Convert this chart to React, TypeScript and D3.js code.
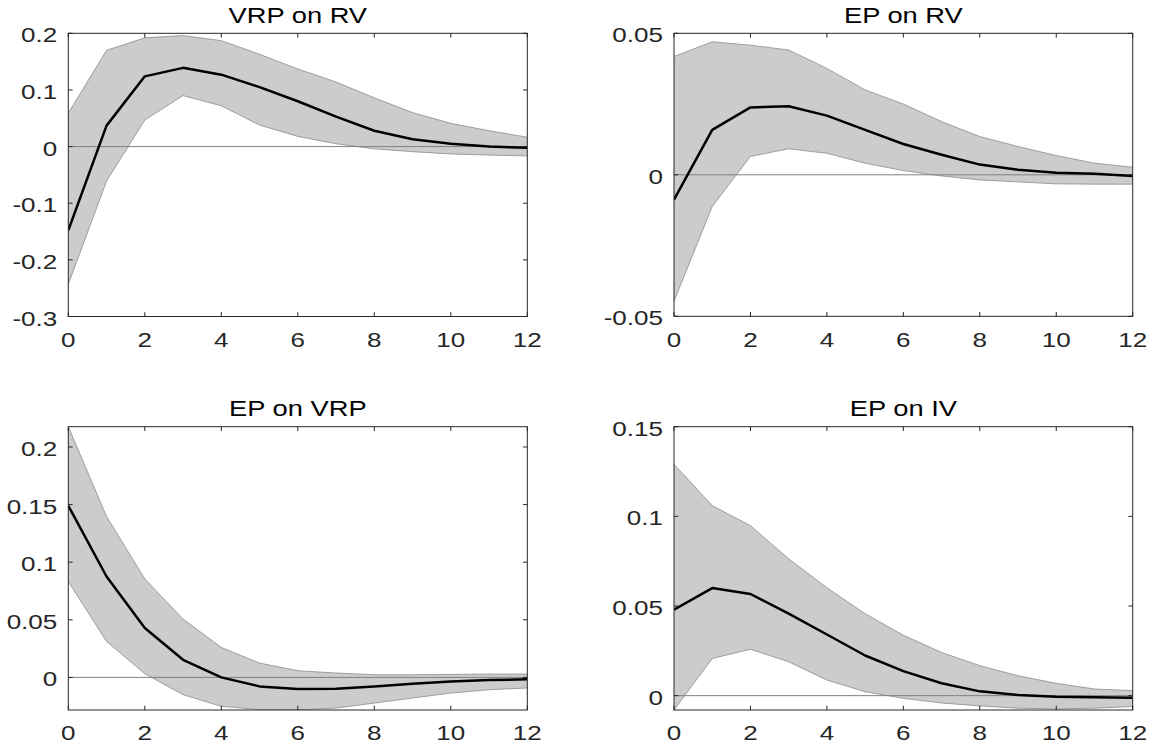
import React from "react";
import * as d3 from "d3";

const horizons = [0, 1, 2, 3, 4, 5, 6, 7, 8, 9, 10, 11, 12];
const xTicks = [0, 2, 4, 6, 8, 10, 12];

// Panel 1: VRP on RV
const vrpOnRvMean = [-0.148, 0.037, 0.124, 0.139, 0.127, 0.105, 0.080, 0.053, 0.028, 0.013, 0.005, 0.0, -0.002];
const vrpOnRvUpper = [0.059, 0.170, 0.192, 0.196, 0.187, 0.163, 0.137, 0.114, 0.086, 0.060, 0.041, 0.028, 0.0165];
const vrpOnRvLower = [-0.243, -0.061, 0.047, 0.090, 0.072, 0.038, 0.018, 0.005, -0.004, -0.009, -0.013, -0.015, -0.0165];
const vrpOnRvTicks = [-0.3, -0.2, -0.1, 0, 0.1, 0.2];
const vrpOnRvDomain = [-0.3, 0.2];

// Panel 2: EP on RV
const epOnRvMean = [-0.0088, 0.0159, 0.0238, 0.0242, 0.0209, 0.0159, 0.0109, 0.0071, 0.0036, 0.0018, 0.0007, 0.0004, -0.0004];
const epOnRvUpper = [0.0418, 0.047, 0.0458, 0.0441, 0.0376, 0.030, 0.025, 0.0188, 0.0135, 0.010, 0.0068, 0.0041, 0.0027];
const epOnRvLower = [-0.0447, -0.0112, 0.0065, 0.0092, 0.0076, 0.0041, 0.0015, -0.0004, -0.0018, -0.0025, -0.0032, -0.0033, -0.0033];
const epOnRvTicks = [-0.05, 0, 0.05];
const epOnRvDomain = [-0.05, 0.05];

// Panel 3: EP on VRP
const epOnVrpMean = [0.149, 0.0876, 0.0428, 0.0153, 0.0, -0.0078, -0.0101, -0.0098, -0.0078, -0.0055, -0.0035, -0.0023, -0.0017];
const epOnVrpUpper = [0.2176, 0.1396, 0.0855, 0.0506, 0.026, 0.0124, 0.0058, 0.0038, 0.0023, 0.0023, 0.0026, 0.0029, 0.0029];
const epOnVrpLower = [0.0832, 0.0312, 0.0032, -0.015, -0.0251, -0.028, -0.0283, -0.0266, -0.0223, -0.0179, -0.0136, -0.0107, -0.0092];
const epOnVrpTicks = [0, 0.05, 0.1, 0.15, 0.2];
const epOnVrpDomain = [-0.0283, 0.2176];

// Panel 4: EP on IV
const epOnIvMean = [0.048, 0.060, 0.0567, 0.0457, 0.0341, 0.0224, 0.0137, 0.0069, 0.0024, 0.0004, -0.0006, -0.0009, -0.0011];
const epOnIvUpper = [0.129, 0.106, 0.0948, 0.0763, 0.0602, 0.0457, 0.0337, 0.0241, 0.0167, 0.0111, 0.0069, 0.0037, 0.0028];
const epOnIvLower = [-0.008, 0.0207, 0.0259, 0.0189, 0.0087, 0.0022, -0.0015, -0.0041, -0.0057, -0.007, -0.0074, -0.007, -0.0061];
const epOnIvTicks = [0, 0.05, 0.1, 0.15];
const epOnIvDomain = [-0.008, 0.15];

const titles = ["VRP on RV", "EP on RV", "EP on VRP", "EP on IV"];

const panels = [
  { title: titles[0], mean: vrpOnRvMean, upper: vrpOnRvUpper, lower: vrpOnRvLower, ticks: vrpOnRvTicks, domain: vrpOnRvDomain, box: [68.3, 527.3, 33.3, 316.5] },
  { title: titles[1], mean: epOnRvMean, upper: epOnRvUpper, lower: epOnRvLower, ticks: epOnRvTicks, domain: epOnRvDomain, box: [674, 1132.7, 33.3, 316.3] },
  { title: titles[2], mean: epOnVrpMean, upper: epOnVrpUpper, lower: epOnVrpLower, ticks: epOnVrpTicks, domain: epOnVrpDomain, box: [68.3, 527.3, 426.7, 710] },
  { title: titles[3], mean: epOnIvMean, upper: epOnIvUpper, lower: epOnIvLower, ticks: epOnIvTicks, domain: epOnIvDomain, box: [674, 1132.7, 426.7, 710] },
];

const FONT = "'Liberation Sans', Arial, Helvetica, sans-serif";
const STRETCH = 1.27;
const AXIS_COLOR = "#262626";

function fmt(v: number): string {
  if (v === 0) return "0";
  return String(+v.toFixed(3));
}

function Panel({ p, idx }: { p: any; idx: number }) {
  const [x0, x1, y0, y1] = p.box;
  const x = d3.scaleLinear().domain([0, 12]).range([x0, x1]);
  const y = d3.scaleLinear().domain(p.domain).range([y1, y0]);
  const area = d3
    .area<number>()
    .x((_, i) => x(horizons[i]))
    .y0((_, i) => y(p.lower[i]))
    .y1((_, i) => y(p.upper[i]));
  const line = d3
    .line<number>()
    .x((_, i) => x(horizons[i]))
    .y((d) => y(d));
  const clipId = `clip-${idx}`;
  const tickLen = 4.3;
  return (
    <g>
      <defs>
        <clipPath id={clipId}>
          <rect x={x0} y={y0} width={x1 - x0} height={y1 - y0} />
        </clipPath>
      </defs>
      <g clipPath={`url(#${clipId})`}>
        <path d={area(p.mean) || ""} fill="#cccccc" stroke="none" />
        <path d={line(p.upper) || ""} fill="none" stroke="#8c8c8c" strokeWidth={0.8} />
        <path d={line(p.lower) || ""} fill="none" stroke="#8c8c8c" strokeWidth={0.8} />
        <line x1={x0} x2={x1} y1={y(0)} y2={y(0)} stroke="#808080" strokeWidth={1} />
        <path d={line(p.mean) || ""} fill="none" stroke="#000" strokeWidth={2.5} strokeLinejoin="round" />
      </g>
      {xTicks.map((t) => (
        <g key={`xt${t}`}>
          <line x1={x(t)} x2={x(t)} y1={y1} y2={y1 - tickLen} stroke={AXIS_COLOR} strokeWidth={1} />
          <line x1={x(t)} x2={x(t)} y1={y0} y2={y0 + tickLen} stroke={AXIS_COLOR} strokeWidth={1} />
          <text
            transform={`translate(${x(t)},${y1 + 30.2}) scale(${STRETCH},1)`}
            textAnchor="middle"
            fontFamily={FONT}
            fontSize={20.5}
            fill={AXIS_COLOR}
          >
            {String(t)}
          </text>
        </g>
      ))}
      {p.ticks.map((t: number) => (
        <g key={`yt${t}`}>
          <line x1={x0} x2={x0 + tickLen} y1={y(t)} y2={y(t)} stroke={AXIS_COLOR} strokeWidth={1} />
          <line x1={x1} x2={x1 - tickLen} y1={y(t)} y2={y(t)} stroke={AXIS_COLOR} strokeWidth={1} />
          <text
            transform={`translate(${x0 - 11},${y(t) + 9}) scale(${STRETCH},1)`}
            textAnchor="end"
            fontFamily={FONT}
            fontSize={20.5}
            fill={AXIS_COLOR}
          >
            {fmt(t)}
          </text>
        </g>
      ))}
      <rect x={x0} y={y0} width={x1 - x0} height={y1 - y0} fill="none" stroke={AXIS_COLOR} strokeWidth={1} />
      <text
        transform={`translate(${(x0 + x1) / 2},${y0 - 10.3}) scale(${STRETCH},1)`}
        textAnchor="middle"
        fontFamily={FONT}
        fontSize={21.5}
        fill="#000"
      >
        {p.title}
      </text>
    </g>
  );
}

export default function App() {
  return (
    <svg
      width={1151}
      height={746}
      viewBox="0 0 1151 746"
      style={{ position: "absolute", left: 0, top: 0, background: "#fff" }}
    >
      <rect x={0} y={0} width={1151} height={746} fill="#fff" />
      {panels.map((p, i) => (
        <Panel key={i} p={p} idx={i} />
      ))}
    </svg>
  );
}
